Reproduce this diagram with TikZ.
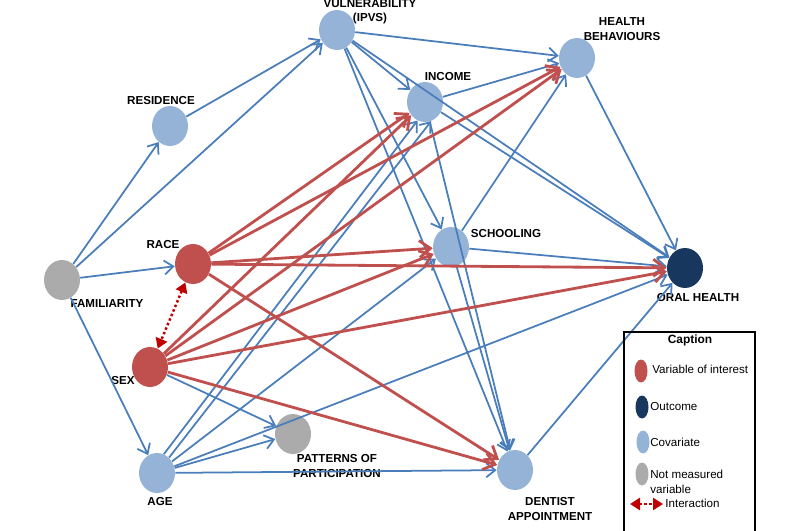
\documentclass[tikz,border=0pt]{standalone}
\usepackage{fontspec}
\setmainfont{Liberation Sans}
\usetikzlibrary{shapes.geometric,arrows.meta}
\definecolor{covblue}{HTML}{95B3D7}
\definecolor{varred}{HTML}{C0504D}
\definecolor{notgray}{HTML}{ABABAB}
\definecolor{outnavy}{HTML}{17375E}
\definecolor{edgeblue}{HTML}{4A7EBB}
\definecolor{edgered}{HTML}{C0504D}
\definecolor{interred}{HTML}{C00000}
\begin{document}
\begin{tikzpicture}[x=0.02cm,y=-0.02cm,
  var/.style={ellipse, minimum width=0.72cm, minimum height=0.8cm, inner sep=0pt, draw=none},
  cov/.style={var, fill=covblue},
  red/.style={var, fill=varred},
  nm/.style={var, fill=notgray},
  outc/.style={var, fill=outnavy},
  lab/.style={font=\fontsize{6.6}{8.2}\selectfont\bfseries, inner sep=0pt, align=center},
  legtxt/.style={font=\fontsize{6.6}{8.2}\selectfont, inner sep=0pt, anchor=west, align=left},
  legdot/.style={ellipse, minimum width=0.26cm, minimum height=0.46cm, inner sep=0pt},
  be/.style={draw=edgeblue, line width=1pt, -{Straight Barb[length=1.8mm,width=2.8mm]}},
  re/.style={draw=edgered, line width=1.6pt, -{Straight Barb[length=2.2mm,width=3.4mm]}},
  inter/.style={draw=interred, line width=1.4pt, dash pattern=on 1.4pt off 1.4pt,
    {Triangle[length=2mm,width=2.4mm]}-{Triangle[length=2mm,width=2.4mm]}},
]
\path[use as bounding box] (0,0) rectangle (800,530);

% nodes
\node[cov]  (vuln) at (337,30) {};
\node[cov]  (hb)   at (577,58) {};
\node[cov]  (inc)  at (425,102) {};
\node[cov]  (res)  at (170,126) {};
\node[cov]  (sch)  at (451,247) {};
\node[outc] (oral) at (685,268) {};
\node[nm]   (fam)  at (62,280) {};
\node[red]  (race) at (193,264) {};
\node[red]  (sex)  at (150,367) {};
\node[cov]  (age)  at (157,473) {};
\node[nm]   (pat)  at (293,434) {};
\node[cov]  (dent) at (515,470) {};

% labels
\node[lab] (lvuln) at (370,12) {VULNERABILITY\\(IPVS)};
\node[lab] (lhb)   at (622,29) {HEALTH\\BEHAVIOURS};
\node[lab] (linc)  at (448,77) {INCOME};
\node[lab] (lres)  at (161,101) {RESIDENCE};
\node[lab] (lsch)  at (506,234) {SCHOOLING};
\node[lab] (loral) at (698,298) {ORAL HEALTH};
\node[lab] (lfam)  at (107,304) {FAMILIARITY};
\node[lab] (lrace) at (163,245) {RACE};
\node[lab] (lsex)  at (123,381) {SEX};
\node[lab] (lage)  at (160,502) {AGE};
\node[lab] (lpat)  at (337,466) {PATTERNS OF\\PARTICIPATION};
\node[lab] (ldent) at (550,509) {DENTIST\\APPOINTMENT};

% blue edges
\draw[be] (fam) -- (res);
\draw[be] (fam) -- (vuln);
\draw[be] (fam) -- (race);
\draw[be] (fam) -- (age);
\draw[be] (res) -- (vuln);
\draw[be] (vuln) -- (hb);
\draw[be] (vuln) -- (inc);
\draw[be] (vuln) -- (sch);
\draw[be] (vuln) -- (oral);
\draw[be] (vuln) -- (dent);
\draw[be] (inc) -- (hb);
\draw[be] (inc) -- (oral);
\draw[be] (inc) -- (dent);
\draw[be] (sch) -- (hb);
\draw[be] (sch) -- (oral);
\draw[be] (sch) -- (dent);
\draw[be] (hb) -- (oral);
\draw[be] (dent) -- (oral);
\draw[be] (age.70) -- (inc.-112);
\draw[be] (age.52) -- (inc.-72);
\draw[be] (age) -- (sch);
\draw[be] (age) -- (oral);
\draw[be] (age) -- (pat);
\draw[be] (age) -- (dent);
\draw[be] (sex) -- (pat);

% red edges
\draw[re] (race) -- (inc);
\draw[re] (race) -- (hb);
\draw[re] (race) -- (sch);
\draw[re] (race) -- (oral);
\draw[re] (race) -- (dent);
\draw[re] (sex) -- (inc);
\draw[re] (sex) -- (hb);
\draw[re] (sex) -- (sch);
\draw[re] (sex) -- (oral);
\draw[re] (sex) -- (dent);

% interaction
\draw[inter] (race) -- (sex);

% caption box
\draw[line width=1.2pt] (624,332) rectangle (755,540);
\node[font=\fontsize{6.8}{8}\selectfont\bfseries, inner sep=0pt] (capt) at (690,340) {Caption};
\node[legdot, fill=varred]  (k1) at (641,371) {};
\node[legtxt] (t1) at (652,369) {Variable of interest};
\node[legdot, fill=outnavy] (k2) at (642,407) {};
\node[legtxt] (t2) at (650,407) {Outcome};
\node[legdot, fill=covblue] (k3) at (643,442) {};
\node[legtxt] (t3) at (650,442) {Covariate};
\node[legdot, fill=notgray] (k4) at (642,474) {};
\node[legtxt] (t4) at (650,482) {Not measured\\variable};
\coordinate (i1) at (630,504);
\coordinate (i2) at (663,504);
\draw[inter] (i1) -- (i2);
\node[legtxt] (t5) at (665,503) {Interaction};
\end{tikzpicture}
\end{document}
